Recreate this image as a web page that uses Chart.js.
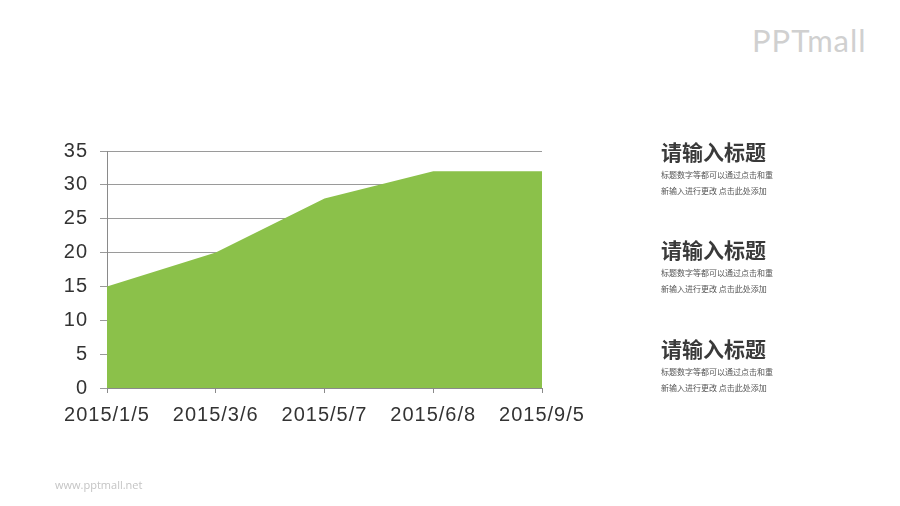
<!DOCTYPE html>
<html lang="zh">
  <head>
    <meta charset="UTF-8" />
    <title>请输入标题</title>
    <script src="https://cdn.jsdelivr.net/npm/chart.js"></script>
    <style>
      body {
        margin: 0;
        width: 900px;
        height: 506px;
        position: relative;
        background: #fff;
        font-family: "Noto Sans CJK SC", "Liberation Sans", sans-serif;
        overflow: hidden;
      }
      #chart {
        position: absolute;
        left: 0;
        top: 0;
      }
      .logo {
        position: absolute;
        left: 752px;
        top: 21px;
        font-family: Lato, "Liberation Sans", sans-serif;
        font-size: 31px;
        color: #d0d0d0;
        letter-spacing: 1px;
      }
      .site {
        position: absolute;
        left: 55px;
        top: 477px;
        font-family: "Open Sans", sans-serif;
        font-size: 11px;
        color: #c4c4c4;
      }
      .block {
        position: absolute;
        left: 661px;
        width: 150px;
      }
      .block h2 {
        margin: 0;
        font-size: 21px;
        line-height: 24px;
        font-weight: bold;
        color: #3a3a3a;
      }
      .block p {
        margin: 4px 0 0 0;
        font-size: 8px;
        line-height: 16px;
        color: #555;
      }
    </style>
  </head>
  <body>
    <div class="logo">PPTmall</div>
    <canvas id="chart" width="900" height="506"></canvas>

    <div class="block" style="top: 139px">
      <h2>请输入标题</h2>
      <p>标题数字等都可以通过点击和重<br />新输入进行更改 点击此处添加</p>
    </div>
    <div class="block" style="top: 237px">
      <h2>请输入标题</h2>
      <p>标题数字等都可以通过点击和重<br />新输入进行更改 点击此处添加</p>
    </div>
    <div class="block" style="top: 336px">
      <h2>请输入标题</h2>
      <p>标题数字等都可以通过点击和重<br />新输入进行更改 点击此处添加</p>
    </div>

    <div class="site">www.pptmall.net</div>

    <script>
      const dates = ["2015/1/5", "2015/3/6", "2015/5/7", "2015/6/8", "2015/9/5"];
      const values = [15, 20, 28, 32, 32];
      const yMin = 0;
      const yMax = 35;
      const yStep = 5;

      const tickFont = { family: "'Liberation Sans', Arial, sans-serif", size: 20 };

      // a touch of letter spacing to match the wider labels
      const spacing = {
        id: "spacing",
        beforeDraw(chart) {
          chart.ctx.letterSpacing = "1px";
        },
      };

      new Chart(document.getElementById("chart"), {
        type: "line",
        data: {
          labels: dates,
          datasets: [
            {
              data: values,
              fill: "origin",
              backgroundColor: "#8bc14a",
              borderWidth: 0,
              pointRadius: 0,
              tension: 0,
            },
          ],
        },
        options: {
          responsive: false,
          animation: false,
          layout: {
            padding: { left: 47, right: 358, top: 151, bottom: 78 },
          },
          plugins: {
            legend: { display: false },
            tooltip: { enabled: false },
          },
          scales: {
            x: {
              offset: false,
              afterFit: (s) => {
                s.height = 40;
              },
              grid: {
                drawOnChartArea: false,
                drawTicks: true,
                tickLength: 5,
                color: "#8a8a8a",
              },
              border: { color: "#8a8a8a" },
              ticks: {
                color: "#333",
                font: tickFont,
                padding: 10,
                maxRotation: 0,
                autoSkip: false,
              },
            },
            y: {
              min: yMin,
              max: yMax,
              afterFit: (s) => {
                s.width = 60;
              },
              grid: {
                color: "#9a9a9a",
                tickLength: 7,
              },
              border: { color: "#8a8a8a" },
              ticks: {
                stepSize: yStep,
                color: "#333",
                font: tickFont,
                padding: 12,
              },
            },
          },
        },
        plugins: [spacing],
      });
    </script>
  </body>
</html>
